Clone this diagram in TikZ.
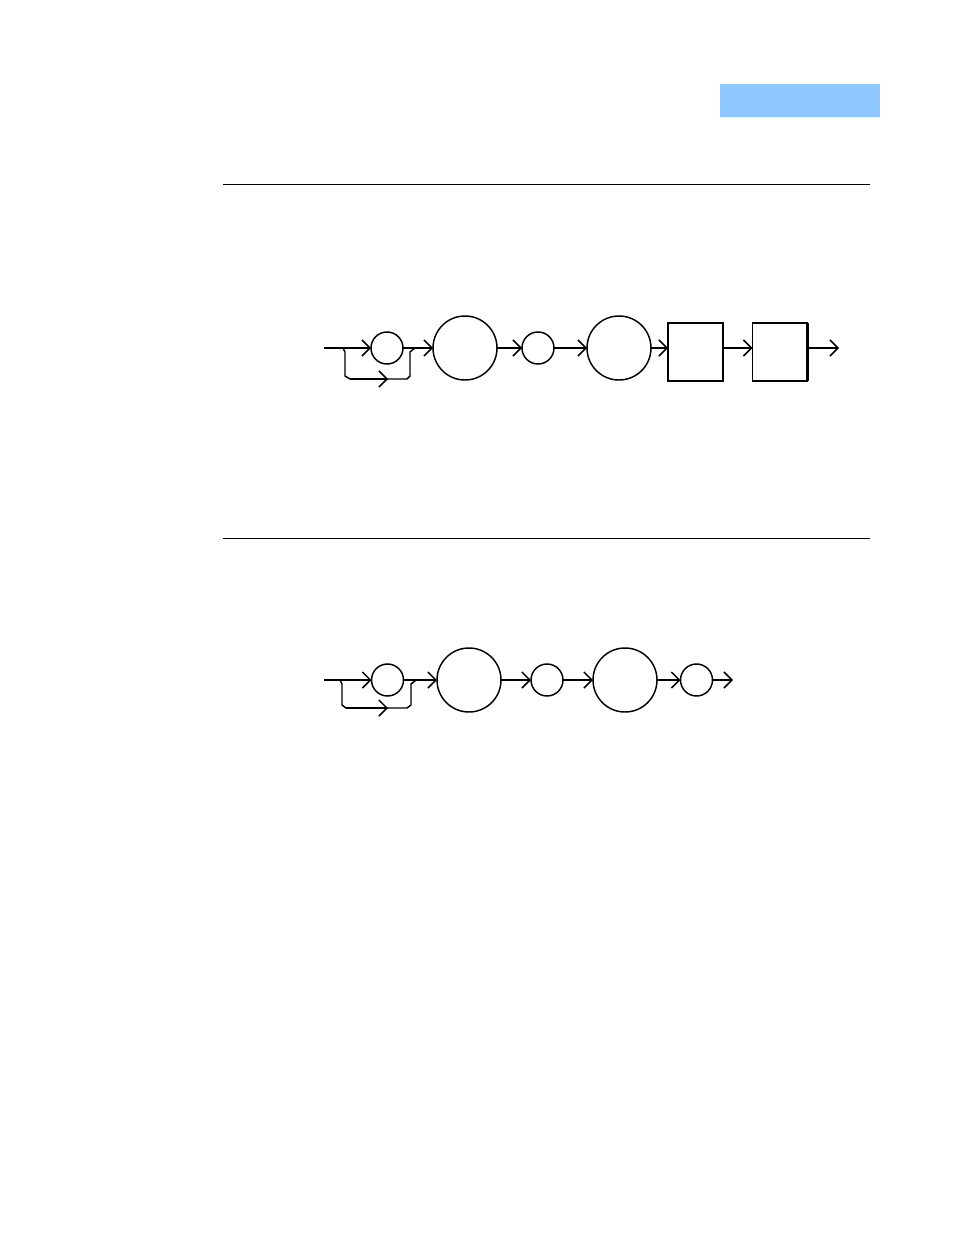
\documentclass[tikz,border=0pt]{standalone}
\usetikzlibrary{arrows.meta}
\definecolor{tabblue}{HTML}{8EC8FF}
\begin{document}
\begin{tikzpicture}[x=0.75pt,y=-0.75pt,
  ln/.style={line width=1.1pt},
  conn/.style={ln,-{Straight Barb[length=6pt,width=12pt]}},
  smallc/.style={circle,draw,ln,minimum size=24pt,inner sep=0pt,outer sep=0pt},
  bigc/.style={circle,draw,ln,minimum size=48pt,inner sep=0pt,outer sep=0pt},
  boxn/.style={rectangle,draw,ln,minimum width=41.25pt,minimum height=43.5pt,inner sep=0pt,outer sep=0pt},
  rule/.style={line width=0.75pt}]
\useasboundingbox (0,0) rectangle (954,1235);
% header tab
\fill[tabblue] (720,84) rectangle (880,117);
% rules
\draw[rule] (223,184) -- (870,184);
\draw[rule] (223,538) -- (870,538);

% ---------- diagram 1 ----------
\coordinate (a0) at (324,348);
\node[smallc] (a1) at (387,348) {};
\node[bigc] (a2) at (465,348) {};
\node[smallc] (a3) at (538,348) {};
\node[bigc] (a4) at (619,348) {};
\node[boxn] (a5) at (695.5,352) {};
\node[boxn] (a6) at (780,352) {};
\coordinate (a7) at (839,348);
\draw[conn] (a0) -- (a1);
\draw[conn] (a1) -- (a2);
\draw[conn] (a2) -- (a3);
\draw[conn] (a3) -- (a4);
\draw[conn] (a4.east) -- (a4.east -| a5.west);
\draw[conn] (a5.east |- a4) -- (a6.west |- a4);
\draw[conn] (a6.east |- a4) -- (a7);
\draw[line width=2pt] (a6.north east) -- (a6.south east);
% bypass
\coordinate (ab0) at (343,348);
\coordinate (ab1) at (388,379);
\coordinate (ab2) at (415,348);
\draw[ln] (ab0) -- (345,352) -- (345,376) -- (350,379) -- (ab1);
\draw[conn] (350,379) -- (ab1);
\draw[ln] (ab1) -- (407,379) -- (410,376) -- (410,352) -- (ab2);

% ---------- diagram 2 ----------
\coordinate (b0) at (324,680);
\node[smallc] (b1) at (387.5,680) {};
\node[bigc] (b2) at (469,680) {};
\node[smallc] (b3) at (547,680) {};
\node[bigc] (b4) at (625,680) {};
\node[smallc] (b5) at (696.5,680) {};
\coordinate (b6) at (733,680);
\draw[conn] (b0) -- (b1);
\draw[conn] (b1) -- (b2);
\draw[conn] (b2) -- (b3);
\draw[conn] (b3) -- (b4);
\draw[conn] (b4) -- (b5);
\draw[conn] (b5) -- (b6);
% bypass
\coordinate (bb0) at (340,680);
\coordinate (bb1) at (388,708);
\coordinate (bb2) at (416,680);
\draw[ln] (bb0) -- (342,684) -- (342,705) -- (346,708) -- (bb1);
\draw[conn] (346,708) -- (bb1);
\draw[ln] (bb1) -- (407,708) -- (411,705) -- (411,684) -- (bb2);
\end{tikzpicture}
\end{document}
